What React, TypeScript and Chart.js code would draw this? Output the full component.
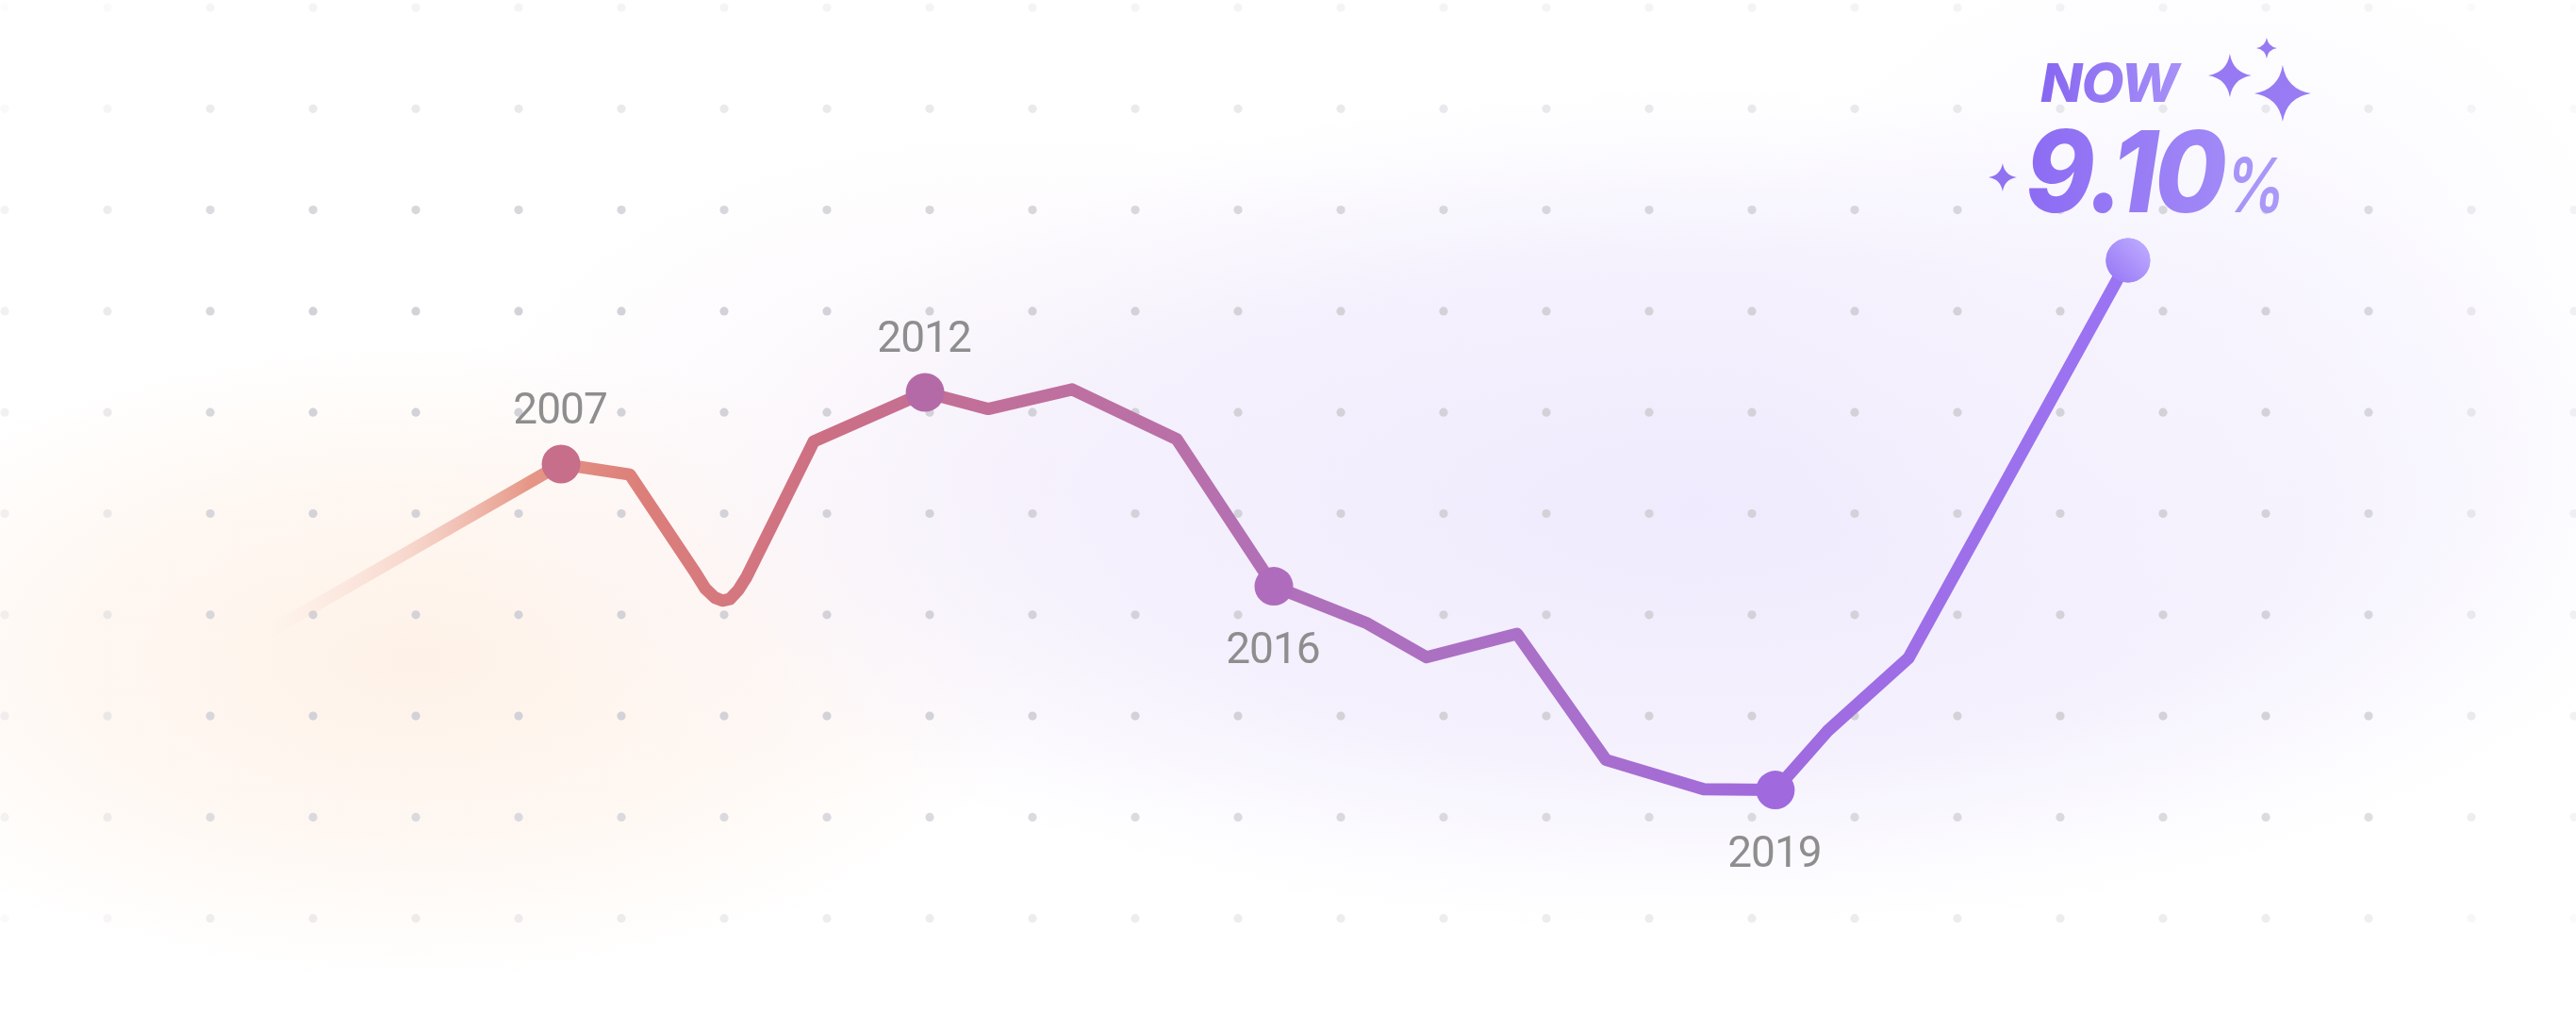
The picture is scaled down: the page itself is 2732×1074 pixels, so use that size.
import React, { useEffect, useRef } from 'react';
import { Chart, registerables } from 'chart.js';

Chart.register(...registerables);

// Timeline position (0-100 across the chart) of each observation
const positions = [
  10.47, 21.78, 24.45, 26.94, 27.38, 27.75, 28.04, 28.33, 28.66, 28.99, 31.59, 35.91,
  38.36, 41.62, 45.68, 49.45, 53.07, 55.38, 58.89, 62.34, 66.14, 68.92, 70.94, 74.09,
  82.61,
];
// Rate (%) at each observation
const rates = [
  4.18, 6.4, 6.26, 4.99, 4.75, 4.63, 4.59, 4.61, 4.73, 4.91, 6.7, 7.35,
  7.13, 7.39, 6.73, 4.78, 4.29, 3.84, 4.15, 2.48, 2.09, 2.08, 2.86, 3.83,
  9.1,
];
// Labels attached to highlighted observations
const tags = [
  '', '2007', '', '', '', '', '', '', '', '', '', '2012',
  '', '', '', '2016', '', '', '', '', '', '2019', '', '',
  'NOW',
];
const nowCaption = 'NOW';

const W = 2732;
const H = 1074;

const dotColors: Record<string, string> = {
  '2007': '#c66e8a',
  '2012': '#b56aa8',
  '2016': '#b06cbc',
  '2019': '#a06ade',
  NOW: '#a185f7',
};

function glow(ctx: CanvasRenderingContext2D, cx: number, cy: number, rx: number, ry: number, stops: [number, string][]) {
  ctx.save();
  ctx.translate(cx, cy);
  ctx.scale(rx / ry, 1);
  const g = ctx.createRadialGradient(0, 0, 0, 0, 0, ry);
  stops.forEach(([o, c]) => g.addColorStop(o, c));
  ctx.fillStyle = g;
  ctx.beginPath();
  ctx.arc(0, 0, ry, 0, Math.PI * 2);
  ctx.fill();
  ctx.restore();
}

function sparkle(ctx: CanvasRenderingContext2D, cx: number, cy: number, r: number) {
  const k = 0.14;
  ctx.beginPath();
  ctx.moveTo(cx, cy - r);
  ctx.quadraticCurveTo(cx + r * k, cy - r * k, cx + r, cy);
  ctx.quadraticCurveTo(cx + r * k, cy + r * k, cx, cy + r);
  ctx.quadraticCurveTo(cx - r * k, cy + r * k, cx - r, cy);
  ctx.quadraticCurveTo(cx - r * k, cy - r * k, cx, cy - r);
  ctx.closePath();
  ctx.fill();
}

// draw text stretched horizontally to the target width, filled with a left-to-right gradient
function stretchText(
  ctx: CanvasRenderingContext2D, text: string, x: number, y: number, target: number,
  c0: string, c1: string, spacing = 0,
) {
  (ctx as any).letterSpacing = spacing + 'px';
  const w = ctx.measureText(text).width;
  ctx.save();
  ctx.translate(x, y);
  ctx.scale(target / w, 1);
  const g = ctx.createLinearGradient(0, 0, w, 0);
  g.addColorStop(0, c0);
  g.addColorStop(1, c1);
  ctx.fillStyle = g;
  ctx.fillText(text, 0, 0);
  ctx.restore();
  (ctx as any).letterSpacing = '0px';
}

export default function App() {
  const ref = useRef<HTMLCanvasElement>(null);

  useEffect(() => {
    const canvas = ref.current;
    if (!canvas) return;

    const background = {
      id: 'background',
      beforeDraw(chart: any) {
        const ctx: CanvasRenderingContext2D = chart.ctx;
        ctx.save();
        ctx.fillStyle = '#ffffff';
        ctx.fillRect(0, 0, W, H);
        glow(ctx, 440, 700, 660, 340, [
          [0, 'rgba(254,241,230,0.95)'],
          [0.55, 'rgba(254,244,236,0.7)'],
          [1, 'rgba(254,244,236,0)'],
        ]);
        glow(ctx, 1080, 500, 620, 380, [
          [0, 'rgba(250,243,249,0.85)'],
          [1, 'rgba(250,243,249,0)'],
        ]);
        glow(ctx, 1800, 540, 1060, 450, [
          [0, 'rgba(239,234,253,1)'],
          [0.6, 'rgba(242,238,253,0.8)'],
          [1, 'rgba(245,242,253,0)'],
        ]);
        glow(ctx, 2330, 330, 480, 400, [
          [0, 'rgba(246,243,254,0.85)'],
          [1, 'rgba(246,243,254,0)'],
        ]);
        // dot grid
        for (let cx = 5; cx <= W; cx += 109) {
          for (let r = 0; r < 10; r++) {
            const cy = 8 + r * 107.3;
            const ex = Math.max(0.3, Math.min(1, Math.min(cx, W - cx) / 250));
            const ey = Math.max(0.25, Math.min(1, Math.min(cy, H - cy) / 250));
            ctx.fillStyle = `rgba(210,210,216,${(ex * ey).toFixed(3)})`;
            ctx.beginPath();
            ctx.arc(cx, cy, 4.6, 0, Math.PI * 2);
            ctx.fill();
          }
        }
        ctx.restore();
      },
    };

    const overlay = {
      id: 'overlay',
      afterDatasetsDraw(chart: any) {
        const ctx: CanvasRenderingContext2D = chart.ctx;
        const meta = chart.getDatasetMeta(0);
        ctx.save();
        tags.forEach((tag, i) => {
          if (!tag || tag === nowCaption) return;
          const pt = meta.data[i];
          const prev = rates[i - 1] ?? -Infinity;
          const next = rates[i + 1] ?? -Infinity;
          const above = rates[i] > prev && rates[i] > next;
          ctx.font = '46px Roboto';
          (ctx as any).letterSpacing = '-1px';
          ctx.fillStyle = '#8e8e8e';
          ctx.textBaseline = 'alphabetic';
          ctx.textAlign = 'center';
          const baseline = above ? pt.y - 43 : pt.y + 81;
          ctx.fillText(tag, pt.x - 1, baseline);
          (ctx as any).letterSpacing = '0px';
        });

        // NOW point with gradient
        const last = rates.length - 1;
        const np = meta.data[last];
        const r = 23.5;
        const dg = ctx.createLinearGradient(np.x + r * 0.7, np.y - r * 0.7, np.x - r * 0.7, np.y + r * 0.7);
        dg.addColorStop(0, '#bba7ff');
        dg.addColorStop(1, '#9b7df5');
        ctx.fillStyle = dg;
        ctx.beginPath();
        ctx.arc(np.x, np.y, r, 0, Math.PI * 2);
        ctx.fill();

        // NOW caption
        ctx.textAlign = 'left';
        ctx.textBaseline = 'alphabetic';
        ctx.font = 'italic 800 56px Inter';
        stretchText(ctx, nowCaption, np.x - 93, np.y - 168, 146, '#8766f1', '#a690f8', -1);

        const val = rates[last].toFixed(2);
        ctx.font = 'italic 800 120px Inter';
        stretchText(ctx, val, np.x - 109, np.y - 51, 210, '#8c6bf3', '#a189f7', -4);

        ctx.font = 'italic 600 80px Inter';
        stretchText(ctx, '%', np.x + 103, np.y - 51, 64, '#a893f8', '#ab9af8');

        // sparkles
        const sg = ctx.createLinearGradient(np.x - 140, np.y - 240, np.x + 200, np.y - 60);
        sg.addColorStop(0, '#8e6ff1');
        sg.addColorStop(1, '#9b7ff4');
        ctx.fillStyle = sg;
        sparkle(ctx, np.x + 147, np.y - 225, 11);
        sparkle(ctx, np.x + 108, np.y - 196, 23);
        sparkle(ctx, np.x + 164, np.y - 177, 30);
        sparkle(ctx, np.x - 133, np.y - 88, 15);
        ctx.restore();
      },
    };

    const chart = new Chart(canvas, {
      type: 'line',
      data: {
        datasets: [
          {
            data: positions.map((x, i) => ({ x, y: rates[i] })),
            borderWidth: 13,
            tension: 0,
            borderCapStyle: 'round',
            borderJoinStyle: 'round',
            borderColor: (c: any) => {
              const chart = c.chart;
              const xs = chart.scales?.x;
              if (!xs) return '#b070b8';
              const x0 = xs.getPixelForValue(positions[0]);
              const x1 = xs.getPixelForValue(positions[positions.length - 1]);
              if (!isFinite(x0) || !isFinite(x1)) return '#b070b8';
              const g = chart.ctx.createLinearGradient(x0, 0, x1, 0);
              g.addColorStop(0, 'rgba(245,205,195,0)');
              g.addColorStop(0.07, 'rgba(240,185,172,0.45)');
              g.addColorStop(0.14, 'rgba(228,145,128,0.95)');
              g.addColorStop(0.2, '#dc7f7a');
              g.addColorStop(0.3, '#cc6f84');
              g.addColorStop(0.36, '#c36f96');
              g.addColorStop(0.49, '#b970a8');
              g.addColorStop(0.54, '#b070b8');
              g.addColorStop(0.68, '#aa70c8');
              g.addColorStop(0.81, '#a06ade');
              g.addColorStop(1, '#9a74f4');
              return g;
            },
            pointRadius: (c: any) => {
              const t = tags[c.dataIndex];
              return t ? (t === nowCaption ? 23.5 : 20.5) : 0;
            },
            pointHoverRadius: 0,
            pointBorderWidth: 0,
            pointBackgroundColor: (c: any) => dotColors[tags[c.dataIndex]] || 'transparent',
            pointBorderColor: 'transparent',
          } as any,
        ],
      },
      options: {
        responsive: false,
        maintainAspectRatio: false,
        devicePixelRatio: 1,
        animation: false,
        events: [],
        layout: { padding: 0, autoPadding: false },
        elements: { line: { borderWidth: 13 } },
        plugins: { legend: { display: false }, tooltip: { enabled: false } },
        scales: {
          x: { type: 'linear', min: 0, max: 100, display: false },
          y: { type: 'linear', min: -0.875, max: 12.55, display: false },
        },
      } as any,
      plugins: [background, overlay],
    });

    return () => chart.destroy();
  }, []);

  return (
    <div style={{ position: 'fixed', left: 0, top: 0, width: W, height: H, background: '#fff' }}>
      <canvas ref={ref} width={W} height={H} style={{ display: 'block', width: W, height: H }} />
    </div>
  );
}
